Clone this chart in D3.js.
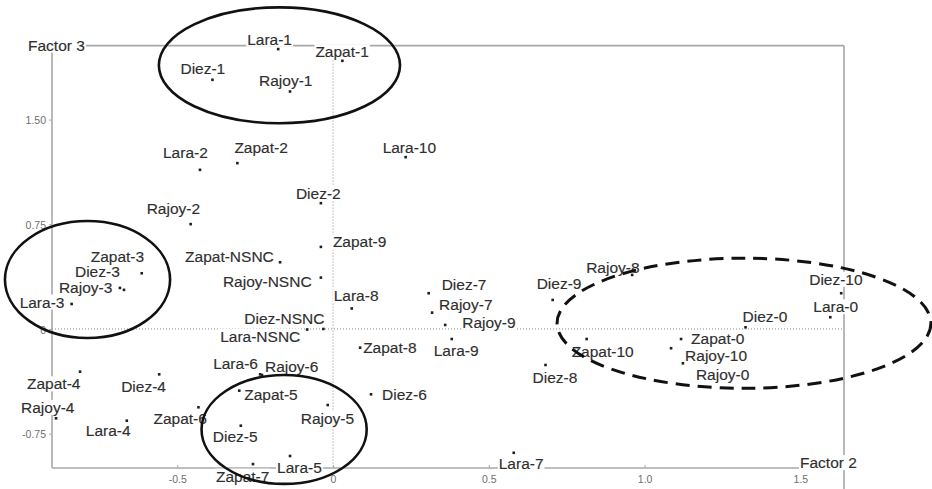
<!DOCTYPE html>
<html>
<head>
<meta charset="utf-8">
<script src="https://cdn.jsdelivr.net/npm/d3@7"></script>
<style>
  html, body { margin: 0; padding: 0; background: #fff; }
  svg { display: block; }
  text { font-family: "Liberation Sans", Arial, Helvetica, sans-serif; }
</style>
</head>
<body>
<svg id="chart" width="932" height="489"></svg>
<script>
// Response categories, in the same order as every series below
const categories = ["0", "1", "2", "3", "4", "5", "6", "7", "8", "9", "10", "NSNC"];
const candidates = ["Lara", "Diez", "Rajoy", "Zapat"];

// Factor 2 (horizontal) and Factor 3 (vertical) scores per candidate
const laraF2  = [1.596, -0.176, -0.427, -0.839, -0.662, -0.138, -0.234, 0.580, 0.060, 0.381, 0.233, -0.083];
const laraF3  = [0.084, 2.005, 1.140, 0.179, -0.657, -0.910, -0.325, -0.887, 0.147, -0.072, 1.231, -0.004];
const diezF2  = [1.324, -0.387, -0.039, -0.671, -0.558, -0.296, 0.122, 0.307, 0.682, 0.705, 1.631, -0.031];
const diezF3  = [0.012, 1.785, 0.901, 0.280, -0.325, -0.693, -0.468, 0.256, -0.258, 0.208, 0.256, 0.000];
const rajoyF2 = [1.123, -0.138, -0.457, -0.684, -0.889, -0.017, -0.228, 0.318, 0.960, 0.360, 1.085, -0.039];
const rajoyF3 = [-0.246, 1.701, 0.751, 0.294, -0.640, -0.545, -0.330, 0.117, 0.387, 0.029, -0.138, 0.368];
const zapatF2 = [1.117, 0.030, -0.307, -0.614, -0.812, -0.301, -0.432, -0.257, 0.087, -0.039, 0.814, -0.170];
const zapatF3 = [-0.072, 1.921, 1.188, 0.399, -0.306, -0.442, -0.561, -0.968, -0.134, 0.588, -0.072, 0.478];

// Axis ticks
const xTicks = [-0.5, 0, 0.5, 1.0, 1.5];
const xTickLabels = ["-0.5", "0", "0.5", "1.0", "1.5"];
const yTicks = [1.5, 0.75, 0, -0.75];
const yTickLabels = ["1.50", "0.75", "0", "-0.75"];

// Highlighted groups: centre and radii in factor units
const groupCx = [-0.172, -0.788, -0.157, 1.319];
const groupCy = [1.889, 0.354, -0.720, 0.041];
const groupRx = [0.387, 0.265, 0.265, 0.600];
const groupRy = [0.415, 0.419, 0.390, 0.466];
const groupDashed = [false, false, false, true];

// Label placement (pixels): left edge and vertical centre relative to the point
const labelPlacement = {
  "Lara-0": [-17, -10.6], "Lara-1": [-31, -10], "Lara-2": [-37, -17], "Lara-3": [-52, -2],
  "Lara-4": [-41, 10], "Lara-5": [-13, 11], "Lara-6": [-47, -11], "Lara-7": [-15, 11],
  "Lara-8": [-18, -13.5], "Lara-9": [-18, 11], "Lara-10": [-23, -10], "Lara-NSNC": [-87, 6.5],
  "Diez-0": [-3, -11], "Diez-1": [-32, -11], "Diez-2": [-25, -10], "Diez-3": [-49, -18],
  "Diez-4": [-38, 12], "Diez-5": [-28, 11], "Diez-6": [11, 0], "Diez-7": [13, -9],
  "Diez-8": [-13, 12], "Diez-9": [-16, -17], "Diez-10": [-32, -14], "Diez-NSNC": [-79, -11],
  "Rajoy-0": [13, 11], "Rajoy-1": [-31, -11], "Rajoy-2": [-44, -16], "Rajoy-3": [-61, -1],
  "Rajoy-4": [-35, -11], "Rajoy-5": [-27, 13], "Rajoy-6": [3, -9], "Rajoy-7": [7, -8],
  "Rajoy-8": [-46, -8], "Rajoy-9": [17, -3], "Rajoy-10": [14, 7], "Rajoy-NSNC": [-98, 4],
  "Zapat-0": [10, -1], "Zapat-1": [-27, -9], "Zapat-2": [-3, -16], "Zapat-3": [-51, -17],
  "Zapat-4": [-53, 12], "Zapat-5": [5, 4], "Zapat-6": [-45, 11], "Zapat-7": [-37, 12],
  "Zapat-8": [3, 0], "Zapat-9": [12, -5], "Zapat-10": [-15, 12], "Zapat-NSNC": [-95, -6]
};

const seriesF2 = { Lara: laraF2, Diez: diezF2, Rajoy: rajoyF2, Zapat: zapatF2 };
const seriesF3 = { Lara: laraF3, Diez: diezF3, Rajoy: rajoyF3, Zapat: zapatF3 };

const points = [];
candidates.forEach(c => {
  categories.forEach((cat, i) => {
    points.push({ name: c + "-" + cat, f2: seriesF2[c][i], f3: seriesF3[c][i] });
  });
});

const svg = d3.select("#chart");
svg.append("rect").attr("width", 932).attr("height", 489).attr("fill", "#fff");

const x = d3.scaleLinear().domain([-0.902, 1.640]).range([52, 844]);
const y = d3.scaleLinear().domain([-0.996, 2.030]).range([468, 45.6]);

const frameColor = "#a8a8a8";
const [x0, x1] = x.range();
const [yb, yt] = y.range();

// Frame
const frame = svg.append("g").attr("fill", "none").attr("stroke", frameColor).attr("stroke-width", 1.6);
frame.append("line").attr("x1", x0).attr("x2", x1).attr("y1", yt).attr("y2", yt);
frame.append("line").attr("x1", x0).attr("x2", x0).attr("y1", yt).attr("y2", yb);
frame.append("line").attr("x1", x0).attr("x2", x1).attr("y1", yb).attr("y2", yb);
frame.append("line").attr("x1", x1).attr("x2", x1).attr("y1", yt).attr("y2", 489);

// Zero reference lines
const zero = svg.append("g").attr("stroke", "#8a8a8a").attr("stroke-width", 1).attr("stroke-dasharray", "1,2");
zero.append("line").attr("x1", x0).attr("x2", x1).attr("y1", y(0)).attr("y2", y(0));
zero.append("line").attr("x1", x(0)).attr("x2", x(0)).attr("y1", yt).attr("y2", yb);

// Axes (ticks and tick labels only)
const xAxis = d3.axisBottom(x).tickValues(xTicks)
  .tickFormat((d, i) => xTickLabels[i]).tickSizeInner(3).tickSizeOuter(0).tickPadding(5);
const gx = svg.append("g").attr("transform", `translate(0,${yb})`).call(xAxis);
const yAxis = d3.axisLeft(y).tickValues(yTicks)
  .tickFormat((d, i) => yTickLabels[i]).tickSizeInner(3).tickSizeOuter(0).tickPadding(3);
const gy = svg.append("g").attr("transform", `translate(${x0},0)`).call(yAxis);
[gx, gy].forEach(g => {
  g.select(".domain").remove();
  g.selectAll(".tick line").attr("stroke", frameColor).attr("stroke-width", 1);
  g.selectAll(".tick text").attr("fill", "#6e6e6e").attr("font-size", 10.5)
    .attr("font-family", "'Liberation Sans', Arial, sans-serif");
});
gx.selectAll(".tick line").attr("y2", -3);
gy.selectAll(".tick text").attr("dy", "0.4em");

// Labels with an opaque white backing
const labelLayer = svg.append("g");
const bgLayer = labelLayer.append("g");
const textLayer = labelLayer.append("g");
const fontSize = 15.5;

function addLabel(str, left, cy) {
  const t = textLayer.append("text")
    .attr("x", left).attr("y", cy + fontSize * 0.36)
    .attr("font-size", fontSize).attr("fill", "#2f2f2f")
    .attr("stroke", "#2f2f2f").attr("stroke-width", 0.15)
    .text(str);
  const b = t.node().getBBox();
  bgLayer.append("rect")
    .attr("x", b.x - 1).attr("y", b.y + 1)
    .attr("width", b.width + 2).attr("height", b.height - 2)
    .attr("fill", "#fff");
  return t;
}

// Axis titles
addLabel("Factor 3", 28, yt - 0.5);
addLabel("Factor 2", 800, 462.5);

points.forEach(p => {
  const [dx, dy] = labelPlacement[p.name];
  addLabel(p.name, x(p.f2) + dx, y(p.f3) + dy);
});

// Points
svg.append("g").selectAll("rect")
  .data(points)
  .join("rect")
  .attr("x", d => x(d.f2) - 1.3)
  .attr("y", d => y(d.f3) - 1.3)
  .attr("width", 2.6).attr("height", 2.6)
  .attr("fill", "#1e1e1e");

// Group ellipses
const groups = groupCx.map((cx, i) => ({
  cx, cy: groupCy[i], rx: groupRx[i], ry: groupRy[i], dashed: groupDashed[i]
}));
svg.append("g").selectAll("ellipse")
  .data(groups)
  .join("ellipse")
  .attr("cx", d => x(d.cx))
  .attr("cy", d => y(d.cy))
  .attr("rx", d => x(d.cx + d.rx) - x(d.cx))
  .attr("ry", d => y(d.cy - d.ry) - y(d.cy))
  .attr("fill", "none")
  .attr("stroke", "#111")
  .attr("stroke-width", d => d.dashed ? 3 : 2.6)
  .attr("stroke-dasharray", d => d.dashed ? "14,8" : null);
</script>
</body>
</html>
